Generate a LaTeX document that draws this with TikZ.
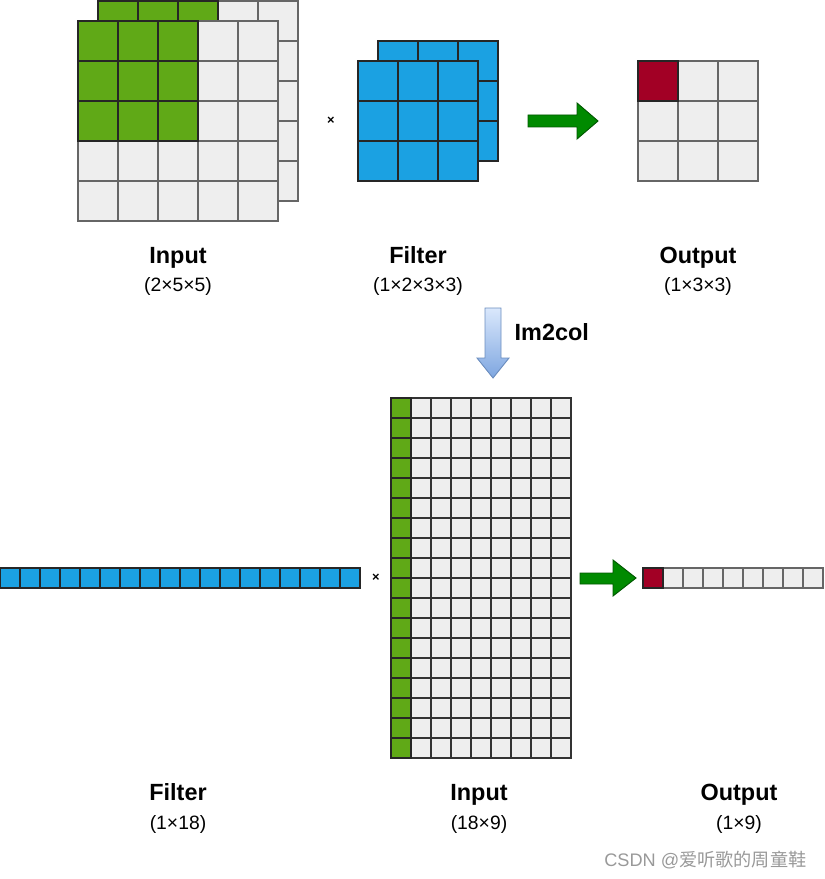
\documentclass[tikz,border=0pt]{standalone}
\usepackage{fontspec}
\setmainfont{Liberation Sans}
\newfontfamily\cjkfont{Noto Sans CJK SC}
\usetikzlibrary{positioning}

\definecolor{cellgreen}{HTML}{60A917}
\definecolor{cellblue}{HTML}{1BA1E2}
\definecolor{cellred}{HTML}{A20025}
\definecolor{cellgray}{HTML}{EEEEEE}
\definecolor{linegray}{HTML}{666666}
\definecolor{linedark}{HTML}{333333}
\definecolor{arrowgreen}{HTML}{008A00}
\definecolor{arrowdark}{HTML}{005700}
\definecolor{colltop}{HTML}{DAE8FC}
\definecolor{collbot}{HTML}{7EA6E0}
\definecolor{collline}{HTML}{6C8EBF}
\definecolor{markgray}{HTML}{999999}

\tikzset{
  blankcell/.style={fill=cellgray, draw=linegray},
  matcell/.style={fill=cellgray, draw=linedark},
  incell/.style={fill=cellgreen, draw=black!85},
  filtcell/.style={fill=cellblue, draw=black!85},
  outcell/.style={fill=cellred, draw=black!85},
  titletext/.style={anchor=base, font=\bfseries\fontsize{20}{24}\selectfont},
  dimtext/.style={anchor=base, font=\fontsize{16.5}{20}\selectfont},
  timestext/.style={font=\bfseries\fontsize{11}{12}\selectfont},
  blockarrow/.style={fill=arrowgreen, draw=arrowdark, line width=0.8pt}
}

\begin{document}
\begin{tikzpicture}[x=0.03cm, y=-0.03cm, line width=1.3pt]
    \useasboundingbox (0,0) rectangle (825,879);

    % Input, back layer
    \foreach \i in {0,...,4}
        \foreach \j in {0,...,4}
            \filldraw[blankcell] ({98+40*\i},{1+40*\j}) rectangle +(40,40);% draw the box
    \foreach \i in {0,1,2}
        \foreach \j in {0,1,2}
            \filldraw[incell] ({98+40*\i},{1+40*\j}) rectangle +(40,40);
    % Input, front layer
    \foreach \i in {0,...,4}
        \foreach \j in {0,...,4}
            \filldraw[blankcell] ({78+40*\i},{21+40*\j}) rectangle +(40,40);% draw the box
    \foreach \i in {0,1,2}
        \foreach \j in {0,1,2}
            \filldraw[incell] ({78+40*\i},{21+40*\j}) rectangle +(40,40);

    \node[timestext] (times1) at (331,121) {×};

    % Filter, two layers
    \foreach \i in {0,1,2}
        \foreach \j in {0,1,2}
            \filldraw[filtcell] ({378+40*\i},{41+40*\j}) rectangle +(40,40);% draw the box
    \foreach \i in {0,1,2}
        \foreach \j in {0,1,2}
            \filldraw[filtcell] ({358+40*\i},{61+40*\j}) rectangle +(40,40);

    \filldraw[blockarrow] (528,115) -- (577,115) -- (577,103) -- (598,121)
        -- (577,139) -- (577,127) -- (528,127) -- cycle;

    % Output
    \foreach \i in {0,1,2}
        \foreach \j in {0,1,2}
            \filldraw[blankcell] ({638+40*\i},{61+40*\j}) rectangle +(40,40);% draw the box
    \filldraw[outcell] (638,61) rectangle +(40,40);

    \node[titletext] (intitle) at (178,263) {Input};
    \node[dimtext] (indim) at (178,291) {(2×5×5)};
    \node[titletext] (filttitle) at (418,263) {Filter};
    \node[dimtext] (filtdim) at (418,291) {(1×2×3×3)};
    \node[titletext] (outtitle) at (698,263) {Output};
    \node[dimtext] (outdim) at (698,291) {(1×3×3)};

    % Im2col
    \shade[top color=colltop, bottom color=collbot, draw=collline, line width=0.8pt]
        (485,308) -- (501,308) -- (501,358) -- (509,358) -- (493,378)
        -- (477,358) -- (485,358) -- cycle;
    \node[titletext, anchor=base west] (im2col) at (510,340) {Im2col};

    % Filter row
    \foreach \i in {0,...,17}
        \filldraw[filtcell] ({20*\i},568) rectangle +(20,20);% draw the box

    \node[timestext] (times2) at (376,578) {×};

    % Input matrix
    \foreach \i in {0,...,8}
        \foreach \j in {0,...,17}
            \filldraw[matcell] ({391+20*\i},{398+20*\j}) rectangle +(20,20);% draw the box
    \foreach \j in {0,...,17}
        \filldraw[incell] (391,{398+20*\j}) rectangle +(20,20);

    \filldraw[blockarrow] (580,573) -- (613,573) -- (613,560) -- (636,578)
        -- (613,596) -- (613,584) -- (580,584) -- cycle;

    % Output row
    \foreach \i in {0,...,8}
        \filldraw[blankcell] ({643+20*\i},568) rectangle +(20,20);% draw the box
    \filldraw[outcell] (643,568) rectangle +(20,20);

    \node[titletext] (filttitle2) at (178,800) {Filter};
    \node[dimtext] (filtdim2) at (178,829) {(1×18)};
    \node[titletext] (intitle2) at (479,800) {Input};
    \node[dimtext] (indim2) at (479,829) {(18×9)};
    \node[titletext] (outtitle2) at (739,800) {Output};
    \node[dimtext] (outdim2) at (739,829) {(1×9)};

    \node[anchor=east, text=markgray, font=\fontsize{15.5}{18}\selectfont] (mark) at (811,860)
        {CSDN @{\cjkfont 爱听歌的周童鞋}};

\end{tikzpicture}
\end{document}
